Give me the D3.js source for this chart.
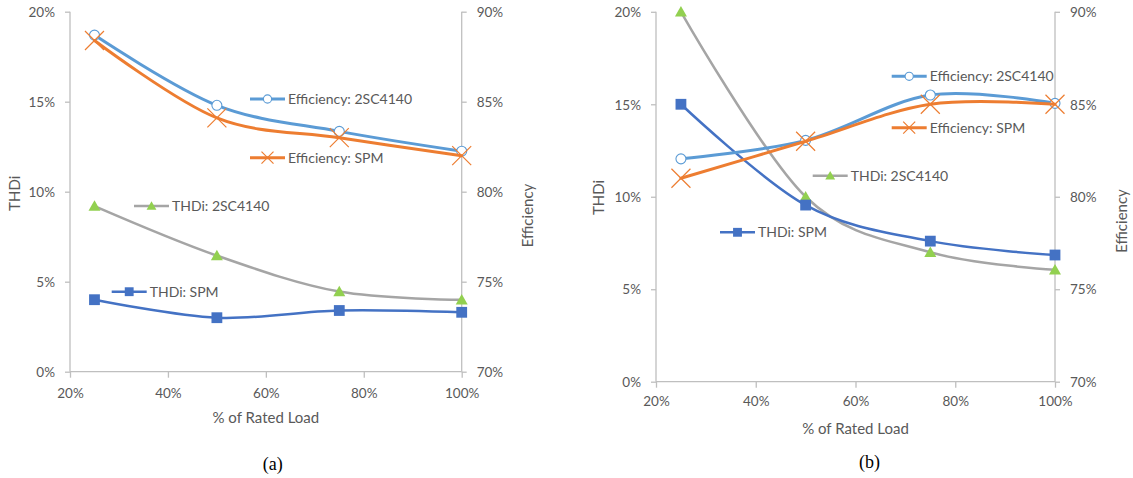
<!DOCTYPE html>
<html>
<head>
<meta charset="utf-8">
<script src="https://cdn.jsdelivr.net/npm/d3@7/dist/d3.min.js"></script>
<style>
  html, body { margin: 0; padding: 0; background: #ffffff; }
  svg { display: block; }
  text { font-family: Lato, "Open Sans", sans-serif; fill: #595959; }
  .caption { font-family: "Liberation Serif", "Times New Roman", serif; fill: #000000; }
</style>
</head>
<body>
<svg id="chart" width="1133" height="478"></svg>
<script>
// Load points (% of rated load)
const loadPct = [25, 50, 75, 100];
const xTicks = [20, 40, 60, 80, 100];
const thdTicks = [0, 5, 10, 15, 20];
const effTicks = [70, 75, 80, 85, 90];

const seriesNames = ["Efficiency: 2SC4140", "Efficiency: SPM", "THDi: 2SC4140", "THDi: SPM"];

// Panel (a)
const effA_2SC4140 = [88.7, 84.8, 83.35, 82.25];
const effA_SPM     = [88.4, 84.1, 83.0, 82.0];
const thdA_2SC4140 = [9.2, 6.45, 4.45, 4.0];
const thdA_SPM     = [4.0, 3.0, 3.4, 3.3];

// Panel (b)
const effB_2SC4140 = [82.05, 83.05, 85.5, 85.05];
const effB_SPM     = [81.0, 83.0, 85.0, 85.0];
const thdB_2SC4140 = [20.0, 10.0, 7.0, 6.05];
const thdB_SPM     = [15.0, 9.55, 7.6, 6.85];

// Series styling
const styles = {
  "Efficiency: 2SC4140": { color: "#5B9BD5", width: 3,   marker: "circle" },
  "Efficiency: SPM":     { color: "#ED7D31", width: 3,   marker: "x" },
  "THDi: 2SC4140":       { color: "#A5A5A5", width: 2.5, marker: "triangle", markerColor: "#92D050" },
  "THDi: SPM":           { color: "#4472C4", width: 2.5, marker: "square" }
};

// Panel geometry and in-plot series labels (key line start x, y)
const panels = [
  {
    caption: "(a)",
    left: 70, right: 461.7, top: 11.7, bottom: 371.7,
    xLabelY: 393.3, xTitleY: 417.7, captionX: 272.8, captionY: 463.3,
    thdTitle: [15, 193.3], effTitle: [527.3, 215.5],
    series: [
      { name: seriesNames[2], axis: "thd", values: thdA_2SC4140, key: [134, 206] },
      { name: seriesNames[3], axis: "thd", values: thdA_SPM,     key: [111.7, 291.7] },
      { name: seriesNames[0], axis: "eff", values: effA_2SC4140, key: [250, 99] },
      { name: seriesNames[1], axis: "eff", values: effA_SPM,     key: [250, 157.7] }
    ]
  },
  {
    caption: "(b)",
    left: 656, right: 1055, top: 11.8, bottom: 381.7,
    xLabelY: 401.7, xTitleY: 428.3, captionX: 869.5, captionY: 461.7,
    thdTitle: [599, 197.5], effTitle: [1121.7, 221],
    series: [
      { name: seriesNames[2], axis: "thd", values: thdB_2SC4140, key: [812.7, 175.7] },
      { name: seriesNames[3], axis: "thd", values: thdB_SPM,     key: [720, 232.3] },
      { name: seriesNames[0], axis: "eff", values: effB_2SC4140, key: [891.7, 76.3] },
      { name: seriesNames[1], axis: "eff", values: effB_SPM,     key: [891.7, 127.7] }
    ]
  }
];

const svg = d3.select("#chart");
const axisColor = "#BFBFBF";
const pct = d => d + "%";

function drawMarker(g, type, x, y, st, big) {
  const s = big ? 1 : 0.82;
  if (type === "circle") {
    g.append("circle").attr("cx", x).attr("cy", y).attr("r", 5 * s)
      .attr("fill", "#ffffff").attr("stroke", st.color).attr("stroke-width", 1.1);
  } else if (type === "x") {
    const a = (big ? 9.5 : 6);
    g.append("path")
      .attr("d", `M${x - a},${y - a}L${x + a},${y + a}M${x - a},${y + a}L${x + a},${y - a}`)
      .attr("stroke", st.color).attr("stroke-width", 1.2).attr("fill", "none");
  } else if (type === "square") {
    const h = 5.4 * s;
    g.append("rect").attr("x", x - h).attr("y", y - h).attr("width", 2 * h).attr("height", 2 * h)
      .attr("fill", st.color);
  } else if (type === "triangle") {
    const w = 6 * s, h = 10.5 * s;
    g.append("path")
      .attr("d", `M${x},${y - h * 0.55}L${x + w},${y + h * 0.45}L${x - w},${y + h * 0.45}Z`)
      .attr("fill", st.markerColor);
  }
}

panels.forEach(p => {
  const x = d3.scaleLinear().domain([20, 100]).range([p.left, p.right]);
  const yThd = d3.scaleLinear().domain([0, 20]).range([p.bottom, p.top]);
  const yEff = d3.scaleLinear().domain([70, 90]).range([p.bottom, p.top]);
  const g = svg.append("g");

  // Axes
  const xAxis = g.append("g").attr("transform", `translate(0,${p.bottom})`)
    .call(d3.axisBottom(x).tickValues(xTicks).tickFormat(pct).tickSize(6).tickPadding(0));
  const lAxis = g.append("g").attr("transform", `translate(${p.left},0)`)
    .call(d3.axisLeft(yThd).tickValues(thdTicks).tickFormat(pct).tickSize(5).tickPadding(10));
  const rAxis = g.append("g").attr("transform", `translate(${p.right},0)`)
    .call(d3.axisRight(yEff).tickValues(effTicks).tickFormat(pct).tickSize(5).tickPadding(10));

  [xAxis, lAxis, rAxis].forEach(a => {
    a.select(".domain").attr("stroke", axisColor).attr("stroke-width", 1.3);
    a.selectAll(".tick line").attr("stroke", axisColor).attr("stroke-width", 1.3);
    a.selectAll("text").attr("font-size", 13.5).attr("fill", "#595959")
      .attr("font-family", "Lato, sans-serif");
  });
  // outward-only domain ends (no end caps)
  xAxis.select(".domain").attr("d", `M${p.left},0H${p.right}`);
  lAxis.select(".domain").attr("d", `M0,${p.bottom}V${p.top}`);
  rAxis.select(".domain").attr("d", `M0,${p.bottom}V${p.top}`);
  xAxis.selectAll(".tick text").attr("y", p.xLabelY - p.bottom).attr("dy", "0.35em");
  lAxis.selectAll(".tick text").attr("dy", "0.35em");
  rAxis.selectAll(".tick text").attr("dy", "0.35em");

  // Axis titles
  g.append("text").attr("x", (p.left + p.right) / 2).attr("y", p.xTitleY).attr("dy", "0.35em")
    .attr("text-anchor", "middle").attr("font-size", 15).text("% of Rated Load");
  g.append("text").attr("transform", `translate(${p.thdTitle[0]},${p.thdTitle[1]}) rotate(-90)`)
    .attr("dy", "0.35em").attr("text-anchor", "middle").attr("font-size", 15).text("THDi");
  g.append("text").attr("transform", `translate(${p.effTitle[0]},${p.effTitle[1]}) rotate(-90)`)
    .attr("dy", "0.35em").attr("text-anchor", "middle").attr("font-size", 15).text("Efficiency");

  // Series lines and markers (efficiency series drawn last, on the secondary axis)
  const line = d3.line().curve(d3.curveCardinal.tension(0));
  p.series.forEach(s => {
    const st = styles[s.name];
    const y = s.axis === "thd" ? yThd : yEff;
    const pts = loadPct.map((l, i) => [x(l), y(s.values[i])]);
    g.append("path").attr("d", line(pts)).attr("fill", "none")
      .attr("stroke", st.color).attr("stroke-width", st.width).attr("stroke-linecap", "round");
    pts.forEach(pt => drawMarker(g, st.marker, pt[0], pt[1], st, true));
  });

  // In-plot series labels with legend keys
  p.series.forEach(s => {
    const st = styles[s.name];
    const [kx, ky] = s.key;
    g.append("line").attr("x1", kx).attr("x2", kx + 35).attr("y1", ky).attr("y2", ky)
      .attr("stroke", st.color).attr("stroke-width", st.width);
    drawMarker(g, st.marker, kx + 17.5, ky, st, false);
    g.append("text").attr("x", kx + 38).attr("y", ky).attr("dy", "0.36em")
      .attr("font-size", 14).text(s.name);
  });

  // Panel caption
  svg.append("text").attr("class", "caption").attr("x", p.captionX).attr("y", p.captionY)
    .attr("dy", "0.35em").attr("text-anchor", "middle").attr("font-size", 18).text(p.caption);
});
</script>
</body>
</html>
